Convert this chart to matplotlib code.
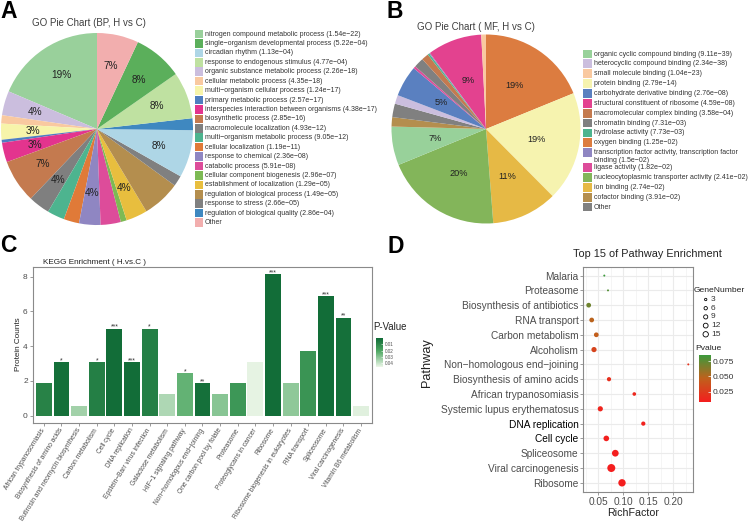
import numpy as np
import matplotlib
matplotlib.use('Agg')
import matplotlib.pyplot as plt
from matplotlib.colors import LinearSegmentedColormap, Normalize
from matplotlib.cm import ScalarMappable
from matplotlib.patches import Rectangle

plt.rcParams['font.family'] = ['Liberation Sans', 'DejaVu Sans']

# ---------------- data ----------------
bp_terms = ["nitrogen compound metabolic process (1.54e\u221222)",
            "single\u2212organism developmental process (5.22e\u221204)",
            "circadian rhythm (1.13e\u221204)",
            "response to endogenous stimulus (4.77e\u221204)",
            "organic substance metabolic process (2.26e\u221218)",
            "cellular metabolic process (4.35e\u221218)",
            "multi\u2212organism cellular process (1.24e\u221217)",
            "primary metabolic process (2.57e\u221217)",
            "interspecies interaction between organisms (4.38e\u221217)",
            "biosynthetic process (2.85e\u221216)",
            "macromolecule localization (4.93e\u221212)",
            "multi\u2212organism metabolic process (9.05e\u221212)",
            "cellular localization (1.19e\u221211)",
            "response to chemical (2.36e\u221208)",
            "catabolic process (5.91e\u221208)",
            "cellular component biogenesis (2.96e\u221207)",
            "establishment of localization (1.29e\u221205)",
            "regulation of biological process (1.49e\u221205)",
            "response to stress (2.66e\u221205)",
            "regulation of biological quality (2.86e\u221204)",
            "Other"]
bp_values = [18.6, 8.3, 8.0, 7.9, 4.1, 1.4, 2.7, 0.5, 3.3, 7.3, 3.6, 2.9, 2.6, 3.6,
             3.4, 1.0, 3.6, 6.4, 1.8, 2.0, 7.0]
bp_colors = ['#99D09B', '#5BAF5B', '#AED6E6', '#BFE1A1', '#CBBEDE', '#F9C9A0',
             '#F7F4AA', '#4F7EC0', '#E3348E', '#C47A4F', '#7F7F7F', '#4DB48F',
             '#E07A38', '#8F86C2', '#DD4C9A', '#7DBA54', '#E8BE3E', '#B48E4E',
             '#808080', '#3F88C0', '#F2AEAE']
bp_pie_order = [0, 4, 5, 6, 7, 8, 9, 10, 11, 12, 13, 14, 15, 16, 17, 18, 2, 19, 3, 1, 20]
bp_show = [True, True, True, True, True, False, True, False, True, True, True,
           False, False, True, False, False, True, False, False, False, True]

mf_terms = ["organic cyclic compound binding (9.11e\u221239)",
            "heterocyclic compound binding (2.34e\u221238)",
            "small molecule binding (1.04e\u221223)",
            "protein binding (2.79e\u221214)",
            "carbohydrate derivative binding (2.76e\u221208)",
            "structural constituent of ribosome (4.59e\u221208)",
            "macromolecular complex binding (3.58e\u221204)",
            "chromatin binding (7.31e\u221203)",
            "hydrolase activity (7.73e\u221203)",
            "oxygen binding (1.25e\u221202)",
            "transcription factor activity, transcription factor\nbinding (1.5e\u221202)",
            "ligase activity (1.82e\u221202)",
            "nucleocytoplasmic transporter activity (2.41e\u221202)",
            "ion binding (2.74e\u221202)",
            "cofactor binding (3.91e\u221202)",
            "Other"]
mf_values = [6.6, 1.5, 0.8, 18.7, 5.3, 9.3, 1.2, 1.7, 0.3, 18.8, 0.15, 0.4, 20.0, 11.2, 1.6, 2.3]
mf_colors = ['#98D19A', '#CBBEDE', '#F9C9A0', '#F6F3AF', '#5A80C0', '#E3428F',
             '#C47A4F', '#808080', '#4DB48F', '#DC7C40', '#8F86C2', '#DD4C9A',
             '#83B55A', '#E6B945', '#B48E4E', '#808080']
mf_pie_order = [9, 3, 13, 12, 0, 14, 15, 1, 4, 11, 7, 6, 8, 10, 5, 2]

kegg_terms = ["African trypanosomiasis", "Biosynthesis of amino acids",
              "Butirosin and neomycin biosynthesis", "Carbon metabolism", "Cell cycle",
              "DNA replication", "Epstein\u2212Barr virus infection", "Galactose metabolism",
              "HIF\u22121 signaling pathway", "Non\u2212homologous end\u2212joining",
              "One carbon pool by folate", "Proteasome", "Proteoglycans in cancer",
              "Ribosome", "Ribosome biogenesis in eukaryotes", "RNA transport",
              "Spliceosome", "Viral carcinogenesis", "Vitamin B6 metabolism"]
kegg_counts = [1.85, 3.09, 0.57, 3.09, 5.01, 3.09, 5.01, 1.22, 2.46, 1.85, 1.22,
               1.85, 3.09, 8.17, 1.85, 3.73, 6.89, 5.64, 0.57]
kegg_pvals = [0.008, 0.002, 0.034, 0.007, 0.001, 0.001, 0.007, 0.036, 0.024, 0.002,
              0.030, 0.015, 0.045, 0.001, 0.031, 0.014, 0.001, 0.002, 0.044]
kegg_stars = ["", "*", "", "*", "***", "***", "*", "", "*", "**", "", "", "",
              "***", "", "", "***", "**", ""]
kegg_pticks = [0.01, 0.02, 0.03, 0.04]

path_names = ["Malaria", "Proteasome", "Biosynthesis of antibiotics", "RNA transport",
              "Carbon metabolism", "Alcoholism", "Non\u2212homologous end\u2212joining",
              "Biosynthesis of amino acids", "African trypanosomiasis",
              "Systemic lupus erythematosus", "DNA replication", "Cell cycle",
              "Spliceosome", "Viral carcinogenesis", "Ribosome"]
path_rich = [0.062, 0.0694, 0.0308, 0.0368, 0.046, 0.0414, 0.230, 0.0714, 0.122,
             0.054, 0.140, 0.066, 0.084, 0.076, 0.0974]
path_genes = [1, 1, 5, 5, 5, 6, 1, 4, 3, 6, 4, 7, 10, 14, 12]
path_pvals = [0.085, 0.078, 0.070, 0.048, 0.045, 0.030, 0.020, 0.018, 0.014, 0.012,
              0.010, 0.009, 0.008, 0.008, 0.008]
path_bold = ["DNA replication", "Cell cycle"]
gene_legend = [3, 6, 9, 12, 15]
rich_ticks = [0.05, 0.10, 0.15, 0.20]
pv_ticks = [0.025, 0.050, 0.075]

# ---------------- figure ----------------
W, H = 750, 529
fig = plt.figure(figsize=(7.5, 5.29), dpi=100)


def box(l, t, r, b):
    return [l / W, 1 - b / H, (r - l) / W, (b - t) / H]


TXT = '#333333'
GRAY = '#4D4D4D'
BORDER = '#8A8A8A'

# ---- Pie A ----
axA = fig.add_axes(box(1, 33, 193, 225))
wA, _ = axA.pie([bp_values[i] for i in bp_pie_order],
                colors=[bp_colors[i] for i in bp_pie_order],
                startangle=90, counterclock=True, radius=1,
                wedgeprops=dict(linewidth=0))
axA.set_xlim(-1, 1); axA.set_ylim(-1, 1); axA.set_aspect('equal')
totA = sum(bp_values)
for w, i in zip(wA, bp_pie_order):
    if bp_show[i]:
        a = np.deg2rad((w.theta1 + w.theta2) / 2)
        axA.text(0.67 * np.cos(a), 0.67 * np.sin(a), f"{bp_values[i] / totA * 100:.0f}%",
                 ha='center', va='center', fontsize=7.2, color='#222222')

# ---- Pie B ----
axB = fig.add_axes(box(391.5, 34.5, 580.5, 223.5))
wB, _ = axB.pie([mf_values[i] for i in mf_pie_order],
                colors=[mf_colors[i] for i in mf_pie_order],
                startangle=90, counterclock=False, radius=1,
                wedgeprops=dict(linewidth=0))
axB.set_xlim(-1, 1); axB.set_ylim(-1, 1); axB.set_aspect('equal')
totB = sum(mf_values)
for w, i in zip(wB, mf_pie_order):
    pct = mf_values[i] / totB * 100
    if pct >= 5:
        a = np.deg2rad((w.theta1 + w.theta2) / 2)
        axB.text(0.55 * np.cos(a), 0.55 * np.sin(a), f"{pct:.0f}%",
                 ha='center', va='center', fontsize=6.6, color='#222222')

# ---- Bar chart C ----
axC = fig.add_axes(box(33.3, 266.7, 371.7, 422.7))
cmapC = LinearSegmentedColormap.from_list('kegg', [(0, '#0F6A36'), (0.45, '#4FA863'), (1, '#ECF6E8')])
normC = Normalize(0, 0.046)
xs = np.arange(len(kegg_terms))
axC.bar(xs, kegg_counts, width=0.9, color=cmapC(normC(np.array(kegg_pvals))), linewidth=0)
for xi, h, s in zip(xs, kegg_counts, kegg_stars):
    if s:
        axC.text(xi, h - 0.12, s, ha='center', va='bottom', fontsize=5, color=TXT)
axC.set_xlim(-0.6, len(kegg_terms) - 0.4)
axC.set_ylim(-0.41, 8.58)
axC.set_yticks([0, 2, 4, 6, 8])
axC.set_xticks(xs)
axC.set_xticklabels(kegg_terms, rotation=58, ha='right', va='center',
                    rotation_mode='anchor', fontsize=4.8, color=GRAY)
axC.tick_params(axis='y', labelsize=6, labelcolor=GRAY, length=2.5, width=0.6,
                color=BORDER, pad=1.5)
axC.tick_params(axis='x', length=2.5, width=0.6, color=BORDER, pad=2)
for sp in axC.spines.values():
    sp.set_color(BORDER); sp.set_linewidth(0.8)

caxC = fig.add_axes(box(376, 338, 383, 367))
cbC = fig.colorbar(ScalarMappable(norm=normC, cmap=cmapC), cax=caxC)
cbC.outline.set_visible(False)
caxC.invert_yaxis()
cbC.set_ticks(kegg_pticks)
cbC.set_ticklabels([f"{t:.2f}" for t in kegg_pticks])
caxC.tick_params(labelsize=3.3, labelcolor=GRAY, length=1.5, width=0.4,
                 color='white', direction='in', pad=1)

# ---- Dot plot D ----
axD = fig.add_axes(box(583.3, 266.7, 692.7, 491.7))
cmapD = LinearSegmentedColormap.from_list('pv', [(0, '#F41E1E'), (0.5, '#C0601C'), (1, '#3C9A3C')])
normD = Normalize(0.0078, 0.085)


def dot_size(n, scale=1.0):
    d = np.sqrt(4 + 4.6 * (np.asarray(n, dtype=float) - 1)) * scale
    return (0.72 * d) ** 2


ys = np.arange(len(path_names))
axD.scatter(path_rich, ys, s=dot_size(path_genes), c=path_pvals, cmap=cmapD,
            norm=normD, linewidths=0, zorder=3)
axD.set_xlim(0.02, 0.2388)
axD.set_ylim(len(path_names) - 0.4, -0.6)
axD.set_yticks(ys)
axD.set_yticklabels(path_names, fontsize=7.3)
for lab in axD.get_yticklabels():
    lab.set_color('black' if lab.get_text() in path_bold else GRAY)
axD.set_xticks(rich_ticks)
axD.set_xticklabels([f"{t:.2f}" for t in rich_ticks], fontsize=7.3, color=GRAY)
axD.set_xticks([0.025, 0.075, 0.125, 0.175, 0.225], minor=True)
axD.tick_params(axis='both', which='major', length=2.5, width=0.6, color=BORDER, pad=1)
axD.tick_params(axis='x', which='minor', length=0)
axD.grid(which='major', color='#EBEBEB', linewidth=0.8)
axD.grid(which='minor', axis='x', color='#F2F2F2', linewidth=0.5)
axD.set_axisbelow(True)
for sp in axD.spines.values():
    sp.set_color(BORDER); sp.set_linewidth(0.8)

caxD = fig.add_axes(box(699, 355, 711, 402))
cbD = fig.colorbar(ScalarMappable(norm=normD, cmap=cmapD), cax=caxD)
cbD.outline.set_visible(False)
cbD.set_ticks(pv_ticks)
cbD.set_ticklabels([f"{t:.3f}" for t in pv_ticks])
caxD.tick_params(labelsize=6.1, labelcolor=TXT, length=2, width=0.5,
                 color='white', direction='in', pad=1)

# ---- overlay in pixel coordinates ----
ov = fig.add_axes([0, 0, 1, 1])
ov.set_xlim(0, W); ov.set_ylim(H, 0); ov.axis('off')

# panel letters
for letter, x, y in [('A', 0, 18.3), ('B', 387, 18.3), ('C', 0, 251.5), ('D', 387.5, 253)]:
    ov.text(x, y, letter, fontsize=16.5, fontweight='bold', ha='left', va='baseline', color='black')

# pie titles
ov.text(89, 23, "GO Pie Chart (BP, H vs C)", fontsize=7, ha='center', va='center', color='#404040')
ov.text(476, 27, "GO Pie Chart ( MF, H vs C)", fontsize=7, ha='center', va='center', color='#404040')

# legend A
for i, (lab, col) in enumerate(zip(bp_terms, bp_colors)):
    y = 34 + 9.43 * i
    ov.add_patch(Rectangle((195, y - 4.3), 8.3, 8.6, facecolor=col, edgecolor='none'))
    ov.text(205, y, lab, fontsize=5, ha='left', va='center', color=TXT)

# legend B
extra = 0
for i, (lab, col) in enumerate(zip(mf_terms, mf_colors)):
    y = 54 + 9.87 * i + extra
    ov.add_patch(Rectangle((582.7, y - 4.4), 9, 8.8, facecolor=col, edgecolor='none'))
    lines = lab.split('\n')
    for k, line in enumerate(lines):
        ov.text(594, y + 8.3 * k, line, fontsize=5, ha='left', va='center', color=TXT)
    extra += 5 * (len(lines) - 1)

# panel C texts
ov.text(43.3, 262, "KEGG Enrichment ( H.vs.C )", fontsize=5.9, ha='left', va='center', color='#222222')
ov.text(18.3, 344, "Protein Counts", fontsize=5.9, rotation=90, ha='center', va='center', color='#222222')
ov.text(373, 327, "P-Value", fontsize=6.9, ha='left', va='center', color='#222222')

# panel D texts
ov.text(647, 254, "Top 15 of Pathway Enrichment", fontsize=7.8, ha='center', va='center', color='#222222')
ov.text(426.7, 363, "Pathway", fontsize=9.2, rotation=90, ha='center', va='center', color='#222222')
ov.text(633, 513, "RichFactor", fontsize=7.7, ha='center', va='center', color='#222222')
ov.text(694, 291, "GeneNumber", fontsize=6.1, ha='left', va='center', color='#222222')
gy = [299.5 + 8.7 * k for k in range(len(gene_legend))]
ov.scatter([705.7] * len(gene_legend), gy, s=dot_size(gene_legend, 0.65),
           facecolors='none', edgecolors='black', linewidths=0.6)
for g, y in zip(gene_legend, gy):
    ov.text(711, y, str(g), fontsize=6, ha='left', va='center', color=TXT)
ov.text(695, 348.3, "Pvalue", fontsize=6.1, ha='left', va='center', color='#222222')

fig.savefig('out.png', dpi=100)
